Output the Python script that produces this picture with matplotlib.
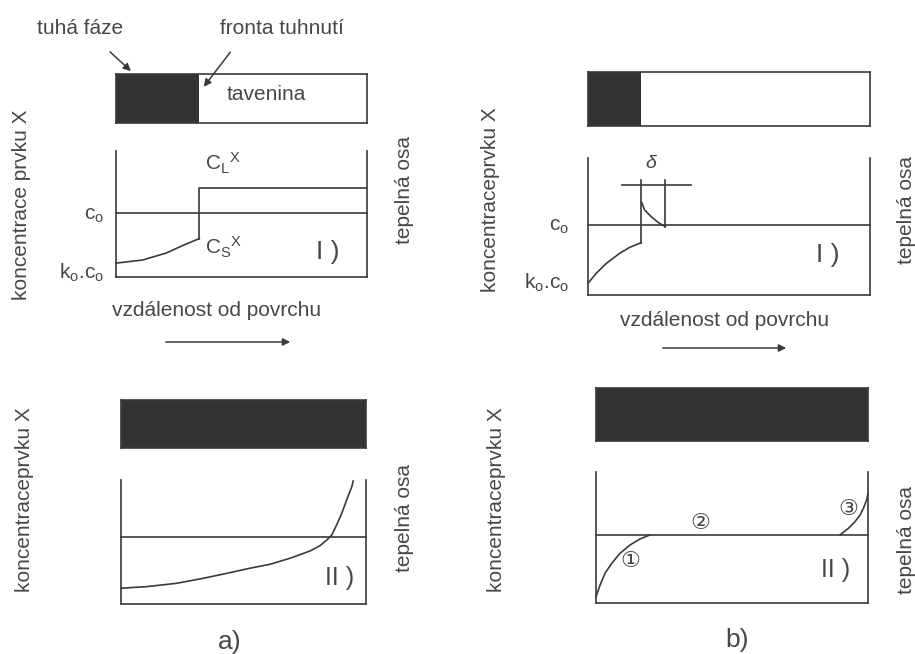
import matplotlib.pyplot as plt
from matplotlib.patches import FancyArrowPatch

W, H = 915, 654
INK = "#3a3a3a"
TXT = "#474747"
DARK = "#333333"

# concentration profiles, distance and concentration scaled 0..1 in each panel
front_a = 0.332
c0_a = 0.51
cl_a = 0.706
cs_x_a = [0, 0.106, 0.200, 0.266, 0.332]
cs_y_a = [0.11, 0.135, 0.19, 0.25, 0.305]

front_b = 0.189
delta_end_b = 0.274
delta_x_b = [0.122, 0.364]
delta_y_b = 0.803
delta_top_b = 0.838
c0_b = 0.512
cs_x_b = [0, 0.029, 0.065, 0.112, 0.148, 0.189]
cs_y_b = [0.085, 0.158, 0.231, 0.304, 0.348, 0.382]
cl_x_b = [0.189, 0.201, 0.224, 0.248, 0.274]
cl_y_b = [0.681, 0.620, 0.572, 0.531, 0.499]

c0_a2 = 0.538
seg_x_a2 = [0, 0.105, 0.227, 0.33, 0.431, 0.53, 0.608, 0.690, 0.771, 0.812,
            0.840, 0.860, 0.880, 0.901, 0.921, 0.942, 0.948]
seg_y_a2 = [0.127, 0.14, 0.167, 0.205, 0.247, 0.29, 0.320, 0.369, 0.427, 0.470,
            0.516, 0.556, 0.637, 0.731, 0.839, 0.946, 0.992]

c0_b2 = 0.52
zone1_x = [0, 0.015, 0.033, 0.058, 0.088, 0.125, 0.162, 0.199]
zone1_y = [0.048, 0.137, 0.227, 0.303, 0.379, 0.443, 0.489, 0.52]
zone3_x = [0.897, 0.928, 0.952, 0.971, 0.983, 0.995, 1.0]
zone3_y = [0.52, 0.570, 0.620, 0.672, 0.723, 0.786, 0.837]

plt.rcParams["font.family"] = ["Liberation Sans", "DejaVu Sans"]
plt.rcParams["mathtext.fontset"] = "custom"
plt.rcParams["mathtext.rm"] = "Liberation Sans"
plt.rcParams["mathtext.it"] = "Liberation Sans:italic"

fig = plt.figure(figsize=(W / 100, H / 100), dpi=100)


def rect(x0, y0, x1, y1):
    return [x0 / W, 1 - y1 / H, (x1 - x0) / W, (y1 - y0) / H]


def label(x, y, s, size=15, **kw):
    kw.setdefault("ha", "center")
    kw.setdefault("va", "center")
    fig.text(x / W, 1 - y / H, s, size=size, color=TXT, **kw)


def arrow(x0, y0, x1, y1):
    fig.add_artist(FancyArrowPatch((x0 / W, 1 - y0 / H), (x1 / W, 1 - y1 / H),
                                   transform=fig.transFigure, arrowstyle="-|>",
                                   mutation_scale=11, color=INK, lw=1.1))


def bar_axes(bounds, front):
    ax = fig.add_axes(rect(*bounds))
    ax.set_xlim(0, 1)
    ax.set_ylim(0, 1)
    ax.axvspan(0, front, color=DARK, lw=0)
    ax.set_xticks([])
    ax.set_yticks([])
    for s in ax.spines.values():
        s.set_color(INK)
        s.set_linewidth(1.2)
    return ax


def plot_axes(bounds):
    ax = fig.add_axes(rect(*bounds))
    ax.set_xlim(0, 1)
    ax.set_ylim(0, 1)
    ax.patch.set_alpha(0)
    ax.set_xticks([])
    ax.set_yticks([])
    ax.spines["top"].set_visible(False)
    for k in ("left", "right", "bottom"):
        ax.spines[k].set_color(INK)
        ax.spines[k].set_linewidth(1.2)
    return ax


lk = dict(color=INK, lw=1.2, clip_on=False, solid_joinstyle="round")
ko_co = r"k$_\mathrm{o}$.c$_\mathrm{o}$"
co = r"c$_\mathrm{o}$"

# ---- a) I : front in the middle of the sample
bar_axes((116, 74, 367, 123), front_a)
ax = plot_axes((116, 151, 367, 277))
ax.axhline(c0_a, **lk)
ax.plot(cs_x_a, cs_y_a, **lk)
ax.plot([front_a, front_a, 1], [cs_y_a[-1], cl_a, cl_a], **lk)

label(80, 28, "tuhá fáze")
label(282, 28, "fronta tuhnutí")
arrow(108, 50, 133, 73)
arrow(232, 50, 202, 89)
label(266, 95, "tavenina")
label(205, 163, r"$\mathrm{C_L{}^X}$", ha="left")
label(205, 247, r"$\mathrm{C_S{}^X}$", ha="left")
label(104, 215, co, ha="right")
label(104, 273, ko_co, ha="right")
label(328, 252, "I )", size=19)
label(22, 205, "koncentrace prvku X", rotation=90)
label(405, 190, "tepelná osa", rotation=90)
label(217, 310, "vzdálenost od povrchu")
arrow(163, 342, 293, 342)

# ---- b) I : diffusion layer delta ahead of the front
bar_axes((588, 72, 870, 126), front_b)
ax = plot_axes((588, 158, 870, 295))
ax.axhline(c0_b, **lk)
ax.plot(cs_x_b, cs_y_b, **lk)
ax.plot(cl_x_b, cl_y_b, **lk)
ax.plot([front_b, front_b], [cs_y_b[-1], delta_top_b], **lk)
ax.plot([delta_end_b, delta_end_b], [cl_y_b[-1], delta_top_b], **lk)
ax.plot(delta_x_b, [delta_y_b, delta_y_b], **lk)

label(652, 163, r"$\delta$", size=14)
label(569, 227, co, ha="right")
label(569, 283, ko_co, ha="right")
label(828, 255, "I )", size=19)
label(491, 200, "koncentraceprvku X", rotation=90)
label(907, 210, "tepelná osa", rotation=90)
label(725, 320, "vzdálenost od povrchu")
arrow(660, 348, 789, 348)

# ---- a) II : fully solidified
bar_axes((121, 400, 366, 448), 1.0)
ax = plot_axes((121, 480, 366, 604))
ax.axhline(c0_a2, **lk)
ax.plot(seg_x_a2, seg_y_a2, **lk)

label(340, 578, "II )", size=18)
label(25, 500, "koncentraceprvku X", rotation=90)
label(405, 518, "tepelná osa", rotation=90)
label(230, 642, "a)", size=19)

# ---- b) II : fully solidified, three zones
bar_axes((596, 388, 868, 441), 1.0)
ax = plot_axes((596, 472, 868, 603))
ax.axhline(c0_b2, **lk)
ax.plot(zone1_x, zone1_y, **lk)
ax.plot(zone3_x, zone3_y, **lk)
for x, y, s in [(0.126, 0.316, "①"), (0.383, 0.608, "②"), (0.927, 0.714, "③")]:
    ax.text(x, y, s, transform=ax.transAxes, ha="center", va="center",
            size=16, color=TXT)

label(836, 570, "II )", size=18)
label(497, 500, "koncentraceprvku X", rotation=90)
label(906, 540, "tepelná osa", rotation=90)
label(737, 640, "b)", size=19)

fig.savefig("out.png", dpi=100)
